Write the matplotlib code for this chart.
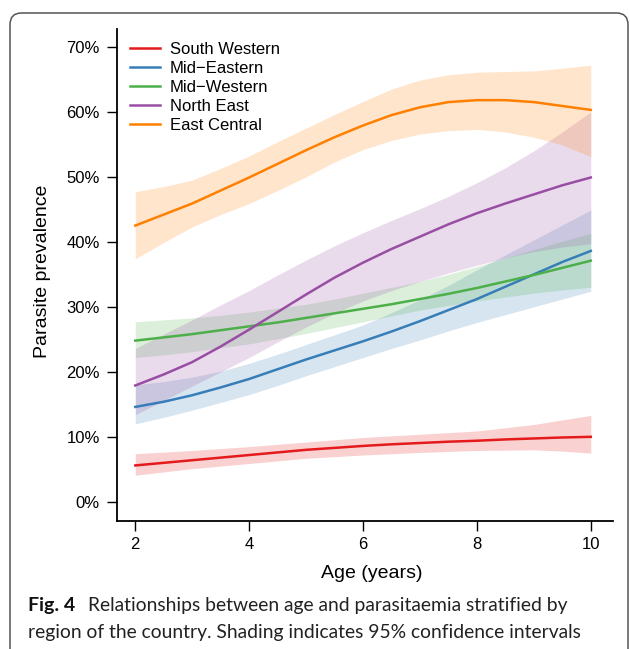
import matplotlib.pyplot as plt
from matplotlib.patches import FancyBboxPatch
from matplotlib.ticker import FuncFormatter

plt.rcParams['font.family'] = ['Liberation Sans', 'DejaVu Sans']

# ages (years), read at half-year steps
age = [2, 2.5, 3, 3.5, 4, 4.5, 5, 5.5, 6, 6.5, 7, 7.5, 8, 8.5, 9, 9.5, 10]

regions = ['South Western', 'Mid\u2212Eastern', 'Mid\u2212Western', 'North East', 'East Central']
colors = ['#E41A1C', '#377EB8', '#4DAF4A', '#984EA3', '#FF7F00']

# prevalence (%) with lower / upper 95% CI
sw_mid = [5.7, 6.1, 6.5, 6.9, 7.3, 7.7, 8.1, 8.4, 8.7, 8.95, 9.15, 9.35, 9.5, 9.7, 9.85, 10.0, 10.1]
sw_lo = [4.2, 4.7, 5.2, 5.6, 6.0, 6.4, 6.8, 7.05, 7.3, 7.5, 7.7, 7.85, 8.0, 8.05, 8.1, 7.9, 7.6]
sw_hi = [7.5, 7.75, 8.0, 8.3, 8.6, 8.95, 9.3, 9.65, 10.0, 10.25, 10.5, 10.75, 11.0, 11.5, 12.0, 12.7, 13.4]

me_mid = [14.7, 15.5, 16.5, 17.7, 19.0, 20.5, 22.0, 23.4, 24.8, 26.3, 27.9, 29.6, 31.3, 33.2, 35.1, 37.0, 38.7]
me_lo = [12.1, 13.1, 14.2, 15.4, 16.6, 18.0, 19.5, 20.9, 22.3, 23.7, 25.0, 26.4, 27.7, 28.9, 30.1, 31.3, 32.5]
me_hi = [18.1, 18.6, 19.3, 20.2, 21.4, 22.8, 24.3, 25.8, 27.3, 29.2, 31.2, 33.4, 35.8, 38.1, 40.4, 42.7, 45.0]

mw_mid = [24.9, 25.4, 25.9, 26.5, 27.1, 27.7, 28.4, 29.1, 29.8, 30.5, 31.3, 32.1, 33.0, 34.0, 35.0, 36.1, 37.2]
mw_lo = [22.3, 22.7, 23.2, 23.8, 24.4, 25.2, 26.0, 26.9, 27.8, 28.7, 29.6, 30.3, 31.0, 31.6, 32.2, 32.7, 33.1]
mw_hi = [27.8, 28.1, 28.4, 28.8, 29.3, 29.9, 30.5, 31.3, 32.2, 33.1, 34.0, 35.1, 36.3, 37.6, 38.9, 40.2, 41.4]

ne_mid = [18.0, 19.7, 21.6, 24.0, 26.6, 29.3, 32.0, 34.6, 36.9, 39.0, 40.9, 42.8, 44.5, 46.0, 47.4, 48.8, 50.0]
ne_lo = [13.5, 15.7, 17.9, 20.1, 22.3, 24.7, 27.0, 29.1, 31.0, 32.6, 34.0, 35.3, 36.5, 37.6, 38.6, 39.3, 39.8]
ne_hi = [23.7, 25.9, 28.1, 30.4, 32.6, 35.0, 37.3, 39.5, 41.5, 43.4, 45.2, 47.1, 49.2, 51.5, 54.1, 57.0, 60.1]

ec_mid = [42.6, 44.3, 46.0, 48.0, 50.0, 52.1, 54.2, 56.2, 58.0, 59.6, 60.8, 61.6, 61.9, 61.9, 61.6, 61.0, 60.4]
ec_lo = [37.5, 40.0, 42.4, 44.3, 46.0, 48.0, 50.1, 52.4, 54.3, 55.7, 56.7, 57.2, 57.4, 57.0, 56.2, 55.0, 53.2]
ec_hi = [47.8, 48.6, 49.6, 51.4, 53.3, 55.5, 57.6, 59.7, 61.7, 63.6, 65.0, 65.8, 66.2, 66.3, 66.4, 66.8, 67.3]

mids = [sw_mid, me_mid, mw_mid, ne_mid, ec_mid]
los = [sw_lo, me_lo, mw_lo, ne_lo, ec_lo]
his = [sw_hi, me_hi, mw_hi, ne_hi, ec_hi]

W, H = 630, 649
fig = plt.figure(figsize=(W / 100, H / 100), dpi=100)

# rounded frame round the whole figure + caption
frame = FancyBboxPatch((10 / W, -20 / H), 618 / W, (H - 13 + 20) / H,
                       boxstyle='round,pad=0,rounding_size=0.018',
                       transform=fig.transFigure, facecolor='none',
                       edgecolor='#555555', linewidth=1.1)
fig.patches.append(frame)

ax = fig.add_axes([117 / W, (H - 521) / H, (613 - 117) / W, (521 - 29.3) / H])

# bands first, then lines
for lo, hi, c in zip(los, his, colors):
    ax.fill_between(age, lo, hi, color=c, alpha=0.2, linewidth=0)
for mid, c, name in zip(mids, colors, regions):
    ax.plot(age, mid, color=c, linewidth=1.8, label=name)

ax.set_xlim(1.679, 10.39)
ax.set_ylim(-2.85, 72.8)
ax.set_xticks([2, 4, 6, 8, 10])
ax.set_yticks([0, 10, 20, 30, 40, 50, 60, 70])
ax.yaxis.set_major_formatter(FuncFormatter(lambda v, p: f'{v:.0f}%'))

for s in ['top', 'right']:
    ax.spines[s].set_visible(False)
for s in ['left', 'bottom']:
    ax.spines[s].set_linewidth(1.3)
ax.tick_params(axis='both', direction='out', length=7, width=1.0, labelsize=12)
ax.tick_params(axis='y', pad=5.5)
ax.tick_params(axis='x', pad=4.5)

fig.text(43 / W, 1 - 271.5 / H, 'Parasite prevalence', rotation=90,
         ha='center', va='center', fontsize=14)
fig.text(372 / W, 1 - 573 / H, 'Age (years)', ha='center', va='center', fontsize=14)

ax.legend(loc='upper left', bbox_to_anchor=(130 / W, 1 - 42 / H),
          bbox_transform=fig.transFigure, frameon=False, fontsize=12,
          handlelength=1.8, handletextpad=0.6, labelspacing=0.24,
          borderpad=0, borderaxespad=0)

# caption
cap_font = ['Lato', 'DejaVu Sans']
fig.text(27.5 / W, 1 - 611 / H, 'Fig. 4', fontsize=14, fontweight='bold',
         ha='left', va='baseline', family=cap_font, color='#111111')
fig.text(87.5 / W, 1 - 611 / H,
         'Relationships between age and parasitaemia stratified by',
         fontsize=13.9, ha='left', va='baseline', family=cap_font, color='#222222')
fig.text(27.5 / W, 1 - 637.7 / H,
         'region of the country. Shading indicates 95% confidence intervals',
         fontsize=13.9, ha='left', va='baseline', family=cap_font, color='#222222')

fig.savefig('out.png', dpi=100)
